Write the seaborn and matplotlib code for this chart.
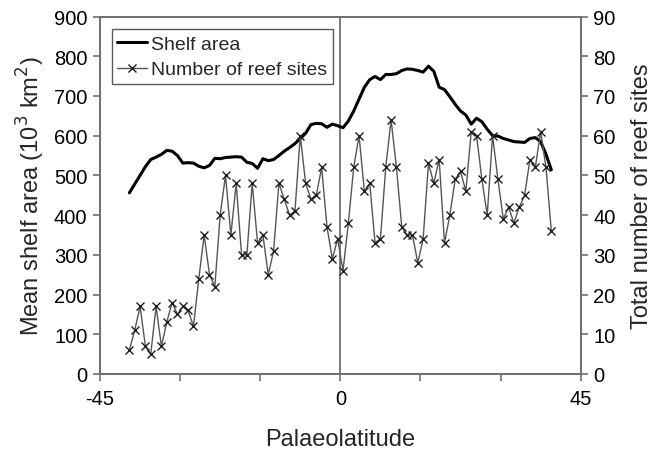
import numpy as np
import pandas as pd
import matplotlib
matplotlib.use("Agg")
import matplotlib.pyplot as plt
import seaborn as sns

lat = [-39.5 + i for i in range(80)]
shelf_area = [456, 478, 500, 522, 540, 546, 553, 563, 561, 550,
              531, 532, 531, 523, 519, 525, 543, 542, 545, 546,
              547, 546, 533, 530, 518, 542, 537, 540, 550, 561,
              570, 580, 593, 606, 628, 631, 630, 621, 629, 625,
              620, 637, 662, 692, 722, 741, 749, 741, 754, 754,
              756, 764, 768, 767, 764, 760, 775, 762, 722, 716,
              698, 679, 662, 652, 629, 644, 635, 616, 600, 599,
              593, 589, 585, 584, 583, 593, 595, 585, 553, 514]
reef_sites = [6, 11, 17, 7, 5, 17, 7, 13, 18, 15,
              17, 16, 12, 24, 35, 25, 22, 40, 50, 35,
              48, 30, 30, 48, 33, 35, 25, 31, 48, 44,
              40, 41, 60, 48, 44, 45, 52, 37, 29, 34,
              26, 38, 52, 60, 46, 48, 33, 34, 52, 64,
              52, 37, 35, 35, 28, 34, 53, 48, 54, 33,
              40, 49, 51, 46, 61, 60, 49, 40, 60, 49,
              39, 42, 38, 42, 45, 54, 52, 61, 52, 36]

df = pd.DataFrame({"lat": lat, "shelf": shelf_area, "reef": reef_sites})

sns.set_theme(style="white")
plt.rcParams["font.family"] = ["Liberation Sans", "DejaVu Sans"]
plt.rcParams["axes.unicode_minus"] = False

fig = plt.figure(figsize=(6.53, 4.56), dpi=100)
ax = fig.add_axes([100/653, 1-375/456, 480.7/653, 357.5/456])
ax2 = ax.twinx()

spine_c = "#707070"
ax.axvline(0, color=spine_c, lw=1.3, zorder=1)

sns.lineplot(data=df, x="lat", y="shelf", ax=ax, color="black", lw=2.2,
             label="Shelf area", legend=False, zorder=3)
sns.lineplot(data=df, x="lat", y="reef", ax=ax2, color="#555555", lw=1.0,
             marker="x", markersize=5.5, markeredgecolor="#202020",
             markeredgewidth=1.0, label="Number of reef sites", legend=False)

ax.set_xlim(-45, 45)
ax.set_ylim(0, 900)
ax2.set_ylim(0, 90)
ax.set_xticks([-45, 0, 45])
ax.set_xticks([-30, -15, 15, 30], minor=True)
ax.set_yticks(range(0, 901, 100))
ax2.set_yticks(range(0, 91, 10))

for a in (ax, ax2):
    for s in a.spines.values():
        s.set_color(spine_c)
        s.set_linewidth(1.3)
    a.tick_params(axis="both", which="both", direction="out", length=5,
                  width=1.2, color=spine_c, labelsize=14.5, colors="black")
    a.tick_params(axis="both", which="both", color=spine_c)
ax.tick_params(axis="x", which="minor", length=5, width=1.2, color=spine_c, bottom=True)
ax.tick_params(axis="y", left=True, right=False, pad=4)
ax2.tick_params(axis="y", right=True, pad=4)
ax.tick_params(axis="x", bottom=True, pad=6)

ax.set_xlabel("Palaeolatitude", fontsize=17, labelpad=14)
ax.set_ylabel("Mean shelf area (10$^3$ km$^2$)", fontsize=17, labelpad=5)
ax2.set_ylabel("Total number of reef sites", fontsize=17, labelpad=11)
ax2.grid(False)
ax.grid(False)

h1 = ax.get_lines()
h2 = ax2.get_lines()
handles = [l for l in h1 if l.get_label() == "Shelf area"] + \
          [l for l in h2 if l.get_label() == "Number of reef sites"]
leg = ax2.legend(handles=handles, labels=[h.get_label() for h in handles],
                 loc="upper left", bbox_to_anchor=(0.012, 0.98), fontsize=14,
                 frameon=True, fancybox=False, edgecolor="#303030",
                 handlelength=1.5, handletextpad=0.25, borderpad=0.3,
                 labelspacing=0.4, borderaxespad=0.3)
leg.get_frame().set_linewidth(1.0)

fig.savefig("out.png", dpi=100)
